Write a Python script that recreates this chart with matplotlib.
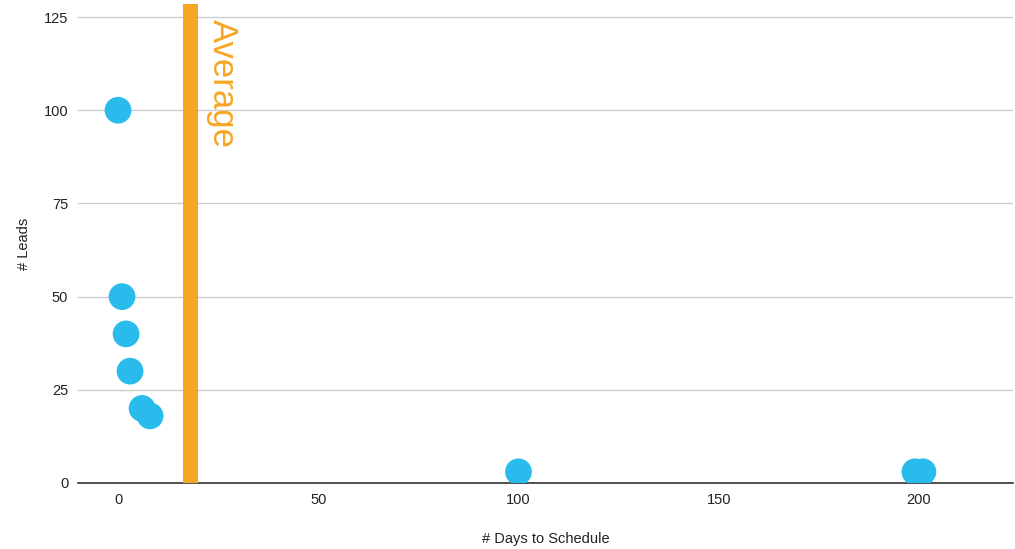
import matplotlib
matplotlib.use('Agg')
import matplotlib.pyplot as plt

# Data
days = [0, 1, 2, 3, 6, 8, 100, 199, 201]
leads = [100, 50, 40, 30, 20, 18, 3, 3, 3]
average_days = 18
x_ticks = [0, 50, 100, 150, 200]
y_ticks = [0, 25, 50, 75, 100, 125]

plt.rcParams['font.family'] = ['Liberation Sans', 'DejaVu Sans']

fig = plt.figure(figsize=(10.15, 5.49), dpi=100)
ax = fig.add_axes([78 / 1015, 66 / 549, (1013 - 78) / 1015, (483 - 4) / 549])

# Average marker as a vertical bar
ax.axvspan(average_days - 1.85, average_days + 1.85, color='#f5a623', zorder=2, lw=0)
ax.text(average_days + 4.0, 124.5, 'Average', rotation=-90, color='#f5a623',
        fontsize=25, ha='left', va='top', zorder=3)

ax.scatter(days, leads, s=370, color='#29bbec', edgecolors='none', zorder=4)

ax.set_xlim(-10, 223.5)
ax.set_ylim(0, 128.5)
ax.set_xticks(x_ticks)
ax.set_yticks(y_ticks)
ax.tick_params(length=0, labelsize=10.5, colors='#222222', pad=7)
ax.grid(axis='y', color='#cccccc', lw=1)
ax.set_axisbelow(True)

for side in ['top', 'right', 'left']:
    ax.spines[side].set_visible(False)
ax.spines['bottom'].set_color('#333333')
ax.spines['bottom'].set_linewidth(1.2)
ax.spines['bottom'].set_zorder(1)

ax.set_xlabel('# Days to Schedule', fontsize=10.5, color='#222222', labelpad=18)
ax.set_ylabel('# Leads', fontsize=10.5, color='#222222', labelpad=9)

plt.savefig('out.png', dpi=100)
